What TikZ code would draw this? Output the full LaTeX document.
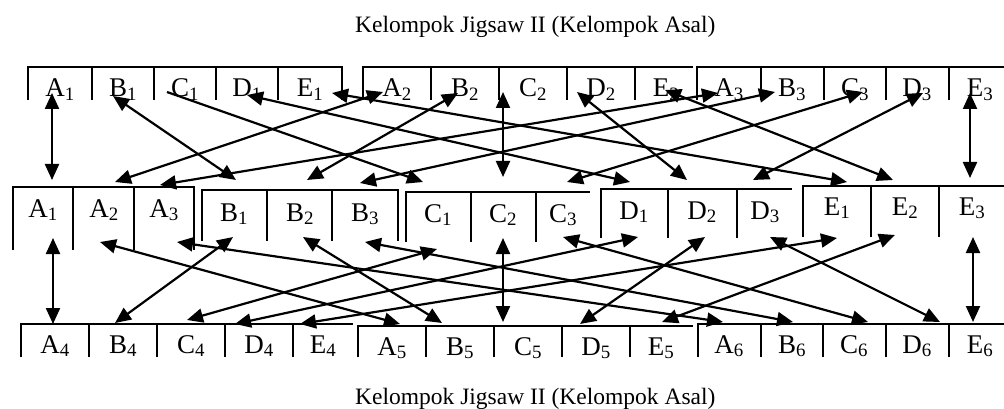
\documentclass[tikz,border=0pt]{standalone}
\usepackage{fontspec}
\setmainfont{Liberation Serif}
\usetikzlibrary{arrows.meta}
\begin{document}
\begin{tikzpicture}[x=1pt,y=-1pt,
  rule/.style={line width=1.9pt},
  conn/.style={line width=2.2pt,{Triangle[length=16pt,width=14pt]}-{Triangle[length=16pt,width=14pt]}},
  oneway/.style={line width=2.2pt,-{Triangle[length=16pt,width=14pt]}},
  lab/.style={anchor=base,inner sep=0pt,font=\fontsize{27}{32}\selectfont},
  ttl/.style={anchor=base west,inner sep=0pt,font=\fontsize{23.5}{28}\selectfont}]
\useasboundingbox (0,0) rectangle (1004,409);

% titles
\node[ttl] (title1) at (355,33) {Kelompok Jigsaw II (Kelompok Asal)};
\node[ttl] (title2) at (355,404) {Kelompok Jigsaw II (Kelompok Asal)};

% ---- top row frames
\draw[rule] (28,100) -- (28,67) -- (342,67) -- (342,100);
\foreach \x in {92,154,216,278} \draw[rule] (\x,67) -- (\x,100);
\draw[rule] (363,100) -- (363,67) -- (693,67);
\foreach \x in {431,499,567,635} \draw[rule] (\x,67) -- (\x,100);
\draw[rule] (697,100) -- (697,67) -- (1004,67);
\foreach \x in {761,824,886,949} \draw[rule] (\x,67) -- (\x,100);

% ---- middle row frames
\draw[rule] (13,250) -- (13,187) -- (194,187) -- (194,250);
\foreach \x in {73,134} \draw[rule] (\x,187) -- (\x,250);
\draw[rule] (202,241) -- (202,190) -- (398,190) -- (398,241);
\foreach \x in {267,332} \draw[rule] (\x,190) -- (\x,241);
\draw[rule] (406,242) -- (406,192) -- (590,192);
\foreach \x in {471,536} \draw[rule] (\x,192) -- (\x,242);
\draw[rule] (601,238) -- (601,189) -- (792,189);
\foreach \x in {668,737} \draw[rule] (\x,189) -- (\x,238);
\draw[rule] (803,237) -- (803,186) -- (1004,186);
\foreach \x in {871,939} \draw[rule] (\x,186) -- (\x,237);

% ---- bottom row frames
\draw[rule] (21,357) -- (21,324) -- (353,324);
\foreach \x in {89,157,225,293} \draw[rule] (\x,324) -- (\x,357);
\draw[rule] (358,357) -- (358,326) -- (693,326);
\foreach \x in {426,494,562,630} \draw[rule] (\x,326) -- (\x,357);
\draw[rule] (698,357) -- (698,324) -- (1004,324);
\foreach \x in {761,823,886,949} \draw[rule] (\x,324) -- (\x,357);

% ---- labels top
\node[lab] (tA1) at (60,97) {A\textsubscript{1}};
\node[lab] (tB1) at (123,97) {B\textsubscript{1}};
\node[lab] (tC1) at (185,97) {C\textsubscript{1}};
\node[lab] (tD1) at (247,97) {D\textsubscript{1}};
\node[lab] (tE1) at (310,97) {E\textsubscript{1}};
\node[lab] (tA2) at (397,97) {A\textsubscript{2}};
\node[lab] (tB2) at (465,97) {B\textsubscript{2}};
\node[lab] (tC2) at (533,97) {C\textsubscript{2}};
\node[lab] (tD2) at (601,97) {D\textsubscript{2}};
\node[lab] (tE2) at (666,97) {E\textsubscript{2}};
\node[lab] (tA3) at (729,97) {A\textsubscript{3}};
\node[lab] (tB3) at (792,97) {B\textsubscript{3}};
\node[lab] (tC3) at (855,97) {C\textsubscript{3}};
\node[lab] (tD3) at (917,97) {D\textsubscript{3}};
\node[lab] (tE3) at (980,97) {E\textsubscript{3}};

% ---- labels middle
\node[lab] (mA1) at (43,217) {A\textsubscript{1}};
\node[lab] (mA2) at (104,217) {A\textsubscript{2}};
\node[lab] (mA3) at (164,217) {A\textsubscript{3}};
\node[lab] (mB1) at (234,221) {B\textsubscript{1}};
\node[lab] (mB2) at (300,221) {B\textsubscript{2}};
\node[lab] (mB3) at (365,221) {B\textsubscript{3}};
\node[lab] (mC1) at (438,222) {C\textsubscript{1}};
\node[lab] (mC2) at (503,222) {C\textsubscript{2}};
\node[lab] (mC3) at (563,222) {C\textsubscript{3}};
\node[lab] (mD1) at (634,219) {D\textsubscript{1}};
\node[lab] (mD2) at (702,219) {D\textsubscript{2}};
\node[lab] (mD3) at (765,219) {D\textsubscript{3}};
\node[lab] (mE1) at (837,215) {E\textsubscript{1}};
\node[lab] (mE2) at (905,215) {E\textsubscript{2}};
\node[lab] (mE3) at (972,215) {E\textsubscript{3}};

% ---- labels bottom
\node[lab] (bA4) at (55,353) {A\textsubscript{4}};
\node[lab] (bB4) at (123,353) {B\textsubscript{4}};
\node[lab] (bC4) at (191,353) {C\textsubscript{4}};
\node[lab] (bD4) at (259,353) {D\textsubscript{4}};
\node[lab] (bE4) at (323,353) {E\textsubscript{4}};
\node[lab] (bA5) at (392,355) {A\textsubscript{5}};
\node[lab] (bB5) at (460,355) {B\textsubscript{5}};
\node[lab] (bC5) at (528,355) {C\textsubscript{5}};
\node[lab] (bD5) at (596,355) {D\textsubscript{5}};
\node[lab] (bE5) at (661,355) {E\textsubscript{5}};
\node[lab] (bA6) at (729,353) {A\textsubscript{6}};
\node[lab] (bB6) at (792,353) {B\textsubscript{6}};
\node[lab] (bC6) at (854,353) {C\textsubscript{6}};
\node[lab] (bD6) at (917,353) {D\textsubscript{6}};
\node[lab] (bE6) at (980,353) {E\textsubscript{6}};

% ---- arrow ports
\coordinate (pA1) at (52,93);   \coordinate (qA1) at (52,180);
\coordinate (pB1) at (113,96);  \coordinate (qB1) at (236,180);
\coordinate (pC1) at (167,92);  \coordinate (qC1) at (423,182);
\coordinate (pD1) at (247,95);  \coordinate (qD1) at (630,182);
\coordinate (pE1) at (332,93);  \coordinate (qE1) at (847,182);
\coordinate (pA2) at (383,92);  \coordinate (qA2) at (115,182);
\coordinate (pB2) at (458,93);  \coordinate (qB2) at (307,180);
\coordinate (pC2) at (503,92);  \coordinate (qC2) at (503,177);
\coordinate (pD2) at (577,92);  \coordinate (qD2) at (687,180);
\coordinate (pE2) at (665,90);  \coordinate (qE2) at (893,180);
\coordinate (pA3) at (718,93);  \coordinate (qA3) at (160,185);
\coordinate (pB3) at (775,92);  \coordinate (qB3) at (360,183);
\coordinate (pC3) at (863,92);  \coordinate (qC3) at (567,182);
\coordinate (pD3) at (923,93);  \coordinate (qD3) at (753,180);
\coordinate (pE3) at (970,93);  \coordinate (qE3) at (970,178);

\coordinate (rA1) at (53,238);  \coordinate (sA4) at (53,324);
\coordinate (rA2) at (100,242); \coordinate (sA5) at (400,324);
\coordinate (rA3) at (177,242); \coordinate (sA6) at (723,322);
\coordinate (rB1) at (233,237); \coordinate (sB4) at (115,323);
\coordinate (rB2) at (303,237); \coordinate (sB5) at (442,323);
\coordinate (rB3) at (365,242); \coordinate (sB6) at (793,322);
\coordinate (rC1) at (437,249); \coordinate (sC4) at (187,320);
\coordinate (rC2) at (503,238); \coordinate (sC5) at (503,322);
\coordinate (rC3) at (563,237); \coordinate (sC6) at (868,322);
\coordinate (rD1) at (638,237); \coordinate (sD4) at (235,324);
\coordinate (rD2) at (705,237); \coordinate (sD5) at (580,324);
\coordinate (rD3) at (770,237); \coordinate (sD6) at (940,322);
\coordinate (rE1) at (837,238); \coordinate (sE4) at (300,324);
\coordinate (rE2) at (895,235); \coordinate (sE5) at (662,322);
\coordinate (rE3) at (973,237); \coordinate (sE6) at (973,322);

% ---- connectors top <-> middle
\draw[conn] (pA1) -- (qA1);
\draw[conn] (pB1) -- (qB1);
\draw[oneway] (pC1) -- (qC1);
\draw[conn] (pD1) -- (qD1);
\draw[conn] (pE1) -- (qE1);
\draw[conn] (pA2) -- (qA2);
\draw[conn] (pB2) -- (qB2);
\draw[conn] (pC2) -- (qC2);
\draw[conn] (pD2) -- (qD2);
\draw[conn] (pE2) -- (qE2);
\draw[conn] (pA3) -- (qA3);
\draw[conn] (pB3) -- (qB3);
\draw[conn] (pC3) -- (qC3);
\draw[conn] (pD3) -- (qD3);
\draw[conn] (pE3) -- (qE3);

% ---- connectors middle <-> bottom
\draw[conn] (rA1) -- (sA4);
\draw[conn] (rA2) -- (sA5);
\draw[conn] (rA3) -- (sA6);
\draw[conn] (rB1) -- (sB4);
\draw[conn] (rB2) -- (sB5);
\draw[conn] (rB3) -- (sB6);
\draw[conn] (rC1) -- (sC4);
\draw[conn] (rC2) -- (sC5);
\draw[conn] (rC3) -- (sC6);
\draw[conn] (rD1) -- (sD4);
\draw[conn] (rD2) -- (sD5);
\draw[conn] (rD3) -- (sD6);
\draw[conn] (rE1) -- (sE4);
\draw[conn] (rE2) -- (sE5);
\draw[conn] (rE3) -- (sE6);
\end{tikzpicture}
\end{document}
